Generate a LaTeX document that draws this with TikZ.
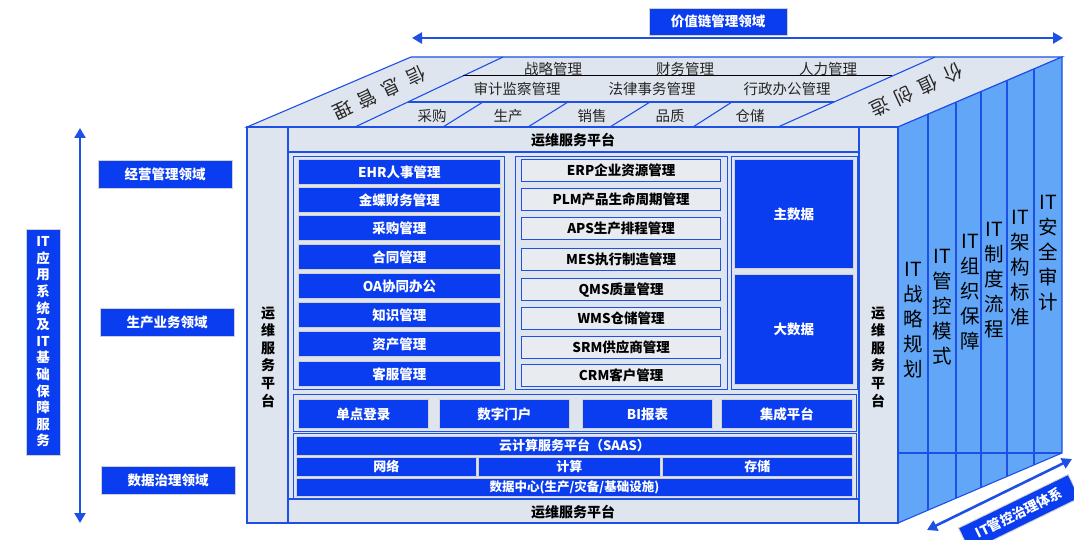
\documentclass[tikz,border=0pt]{standalone}
\usepackage{fontspec}
\setmainfont{Noto Sans CJK SC}
\usetikzlibrary{arrows.meta}
\definecolor{itblue}{HTML}{0A3CF0}
\definecolor{lineblue}{HTML}{1E50E6}
\definecolor{facegrey}{HTML}{DFE5EE}
\definecolor{sideblue}{HTML}{62A6F7}
\definecolor{bargrey}{HTML}{E8EBF0}
\newcommand\setfs[2]{\fontsize{#1}{#2}\selectfont}
\tikzset{
  edge/.style={draw=lineblue, line width=1.1pt},
  face/.style={fill=facegrey, edge},
  wh/.style 2 args={minimum width=#1pt, minimum height=#2pt},
  group/.style={draw=lineblue, line width=0.9pt, anchor=north west, inner sep=0pt},
  bluebar/.style={fill=itblue, draw=black!18, line width=0.9pt, text=white,
    font=\bfseries\setfs{13.5}{14}, anchor=north west, inner sep=0pt},
  greybar/.style={fill=bargrey, draw=lineblue, line width=1.3pt, text=black,
    font=\bfseries\setfs{13.5}{14}, anchor=north west, inner sep=0pt},
  opstext/.style={font=\bfseries\setfs{14}{17.6}, align=center, text=black},
  toptext/.style={font=\setfs{14.5}{15}, text=black!85},
  diagtext/.style={font=\setfs{19}{19}, rotate=205, text=black!85, inner sep=0pt},
  sidetext/.style={font=\setfs{19.5}{25}, align=center, text=black},
  dbl/.style={draw=lineblue, line width=2.6pt,
    {Triangle[width=11pt,length=10pt]}-{Triangle[width=11pt,length=10pt]}}
}
\begin{document}
\begin{tikzpicture}[x=1pt, y=-1pt]
    \clip (0,0) rectangle (1074,540);
    \coordinate (F1) at (247,127);
    \coordinate (F2) at (898,127);
    \coordinate (F3) at (898,523);
    \coordinate (B1) at (411,57);
    \coordinate (B2) at (1062,57);
    \coordinate (B3) at (1062,453);

    \draw[face] (F1) -- (B1) -- (B2) -- (F2) -- cycle;
    \draw[edge] (355,127) -- (503,57);
    \draw[edge] (778,127) -- (935,57);
    \draw[black, line width=1pt] (463,76) -- (892,76);
    \draw[edge] (408,102) -- (834,102);
    \draw[edge]
    (443,127) -- (483,102)
    (528,127) -- (568,102)
    (610,127) -- (650,102)
    (693,127) -- (732,102);

    \draw[edge, fill=sideblue] (F2) -- (B2) -- (B3) -- (F3) -- cycle;
    \draw[edge]
    (928,114.2) -- (928,510.2)
    (956,102.2) -- (956,498.2)
    (981,91.6) -- (981,487.6)
    (1007,80.5) -- (1007,476.5)
    (1034,69) -- (1034,465)
    (898,453) -- (1062,453);

    \draw[face] (F1) rectangle (F3);
    \draw[edge]
    (288,127) -- (288,523)
    (859,127) -- (859,523)
    (288,152) -- (859,152)
    (288,499) -- (859,499);

    \node[toptext] (strat) at (553,69) {战略管理};
    \node[toptext] (fin) at (685,69) {财务管理};
    \node[toptext] (hr) at (828,69) {人力管理};
    \node[toptext] (audit) at (517,89) {审计监察管理};
    \node[toptext] (legal) at (652,89) {法律事务管理};
    \node[toptext] (admin) at (787,89) {行政办公管理};
    \node[toptext] (purch) at (432,116) {采购};
    \node[toptext] (prod) at (508,116) {生产};
    \node[toptext] (sales) at (592,116) {销售};
    \node[toptext] (qual) at (670,116) {品质};
    \node[toptext] (store) at (750,116) {仓储};
    \node[diagtext] (info1) at (416,76) {信};
    \node[diagtext] (info2) at (391,88) {息};
    \node[diagtext] (info3) at (367,99) {管};
    \node[diagtext] (info4) at (343,110) {理};
    \node[diagtext] (value1) at (953,73) {价};
    \node[diagtext] (value2) at (928,85) {值};
    \node[diagtext] (value3) at (904,96) {创};
    \node[diagtext] (value4) at (880,107) {造};

    \node[opstext] (opstop) at (573,140) {运维服务平台};
    \node[opstext] (opsbot) at (573,512) {运维服务平台};
    \node[opstext] (opsleft) at (268,357) {运\\维\\服\\务\\平\\台};
    \node[opstext] (opsright) at (878,357) {运\\维\\服\\务\\平\\台};

    \node[group, wh={211}{233}] (mgmt) at (293,156) {};
    \node[bluebar, wh={202}{25}] (ehr) at (298,159) {EHR人事管理};
    \node[bluebar, wh={202}{25}] (kingdee) at (298,187) {金蝶财务管理};
    \node[bluebar, wh={202}{25}] (procure) at (298,215) {采购管理};
    \node[bluebar, wh={202}{25}] (contract) at (298,244) {合同管理};
    \node[bluebar, wh={202}{25}] (oa) at (298,273) {OA协同办公};
    \node[bluebar, wh={202}{25}] (know) at (298,302) {知识管理};
    \node[bluebar, wh={202}{25}] (asset) at (298,331) {资产管理};
    \node[bluebar, wh={202}{25}] (service) at (298,361) {客服管理};

    \node[group, wh={212}{233}] (ops) at (515,156) {};
    \node[greybar, wh={199}{22}] (erp) at (521,159) {ERP企业资源管理};
    \node[greybar, wh={199}{22}] (plm) at (521,188) {PLM产品生命周期管理};
    \node[greybar, wh={199}{22}] (aps) at (521,217) {APS生产排程管理};
    \node[greybar, wh={199}{22}] (mes) at (521,248) {MES执行制造管理};
    \node[greybar, wh={199}{22}] (qms) at (521,278) {QMS质量管理};
    \node[greybar, wh={199}{22}] (wms) at (521,307) {WMS仓储管理};
    \node[greybar, wh={199}{22}] (srm) at (521,336) {SRM供应商管理};
    \node[greybar, wh={199}{22}] (crm) at (521,364) {CRM客户管理};

    \node[group, wh={126}{233}] (data) at (731,156) {};
    \node[bluebar, wh={119}{109}] (master) at (734,159) {主数据};
    \node[bluebar, wh={119}{110}] (bigdata) at (734,274) {大数据};

    \node[group, wh={563}{37}] (portal) at (293,394) {};
    \node[bluebar, wh={130}{29}] (sso) at (298,399) {单点登录};
    \node[bluebar, wh={130}{29}] (door) at (439,399) {数字门户};
    \node[bluebar, wh={130}{29}] (bi) at (582,399) {BI报表};
    \node[bluebar, wh={131}{29}] (integ) at (721,399) {集成平台};

    \node[group, wh={563}{65}] (infra) at (293,433) {};
    \node[bluebar, wh={556}{19}, font=\bfseries\setfs{13}{13}] (saas) at (296,436) {云计算服务平台（SAAS）};
    \node[bluebar, wh={180}{19}, font=\bfseries\setfs{13}{13}] (net) at (296,457) {网络};
    \node[bluebar, wh={182}{19}, font=\bfseries\setfs{13}{13}] (compute) at (478,457) {计算};
    \node[bluebar, wh={190}{19}, font=\bfseries\setfs{13}{13}] (storage) at (662,457) {存储};
    \node[bluebar, wh={556}{18}, font=\bfseries\setfs{12.5}{13}] (dc) at (296,478) {数据中心(生产/灾备/基础设施)};

    \node[sidetext] (itplan) at (913,320) {IT\\战\\略\\规\\划};
    \node[sidetext] (itctrl) at (942,307) {IT\\管\\控\\模\\式};
    \node[sidetext] (itorg) at (970,292) {IT\\组\\织\\保\\障};
    \node[sidetext] (itrule) at (994,280) {IT\\制\\度\\流\\程};
    \node[sidetext] (itarch) at (1020,268) {IT\\架\\构\\标\\准};
    \node[sidetext] (itsec) at (1048,253) {IT\\安\\全\\审\\计};

    \node[bluebar, anchor=center, wh={134}{28}] (bizmgmt) at (165,174) {经营管理领域};
    \node[bluebar, anchor=center, wh={134}{28}] (bizprod) at (167,322) {生产业务领域};
    \node[bluebar, anchor=center, wh={134}{28}] (bizdata) at (168,480) {数据治理领域};
    \node[bluebar, anchor=center, wh={34}{226}, align=center,
      font=\bfseries\setfs{13.5}{16.6}] (itsvc) at (43,342)
      {IT\\应\\用\\系\\统\\及\\IT\\基\\础\\保\\障\\服\\务};
    \node[bluebar, anchor=center, wh={138}{27}] (vchain) at (718,21.5) {价值链管理领域};
    \node[bluebar, anchor=center, wh={122}{26}, rotate=26] (itgov) at (1019,513) {IT管控治理体系};

    \coordinate (vtop) at (80,128);
    \coordinate (vbot) at (80,523);
    \coordinate (hleft) at (412,38);
    \coordinate (hright) at (1063,38);
    \coordinate (dleft) at (927,530);
    \coordinate (dright) at (1072,459);
    \draw[dbl] (vtop) -- (vbot);
    \draw[dbl] (hleft) -- (hright);
    \draw[dbl] (dleft) -- (dright);
\end{tikzpicture}
\end{document}
